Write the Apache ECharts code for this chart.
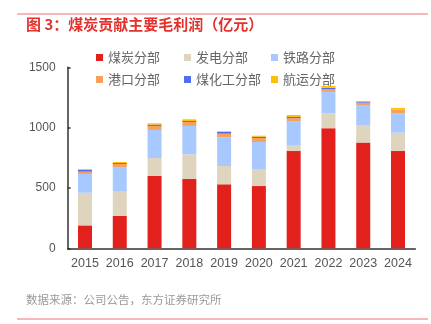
<!DOCTYPE html>
<html><head><meta charset="utf-8">
<script src="https://cdn.jsdelivr.net/npm/echarts@6/dist/echarts.min.js"></script>
<style>html,body{margin:0;padding:0;background:#fff}#c{width:431px;height:324px}</style>
</head><body><div id="c"></div>
<script>
const categories = ['2015','2016','2017','2018','2019','2020','2021','2022','2023','2024'];
const seriesNames = ['煤炭分部','发电分部','铁路分部','港口分部','煤化工分部','航运分部'];
const coal     = [190, 268, 599, 574, 530, 516, 806, 995, 876, 806];
const power    = [270, 201, 149, 205, 152, 141,  50, 124, 146, 152];
const railway  = [156, 200, 233, 235, 238, 224, 194, 177, 160, 163];
const port     = [ 19,  30,  33,  33,  30,  33,  28,  22,  25,  31];
const coalChem = [ 14,   8,  11,   8,  14,  11,  10,  13,   6,   0];
const shipping = [  7,   8,  11,  14,   6,   8,  17,  14,   8,  11];
const yTicks = [0, 500, 1000, 1500];

const values = [coal, power, railway, port, coalChem, shipping];
const colors = ['#e3211c', '#dfd5bf', '#a8c9ff', '#f9a05c', '#4f6ef0', '#ffc000'];
const font = '"Liberation Sans", Arial, "Noto Sans CJK SC", sans-serif';
const cjk = '"Noto Sans CJK SC", sans-serif';

const legendPos = [[96, 51], [184, 51], [271, 51], [96, 73], [184, 73], [271, 73]];
const legends = seriesNames.map((n, i) => ({
  data: [n], left: legendPos[i][0], top: legendPos[i][1], padding: 0,
  icon: 'rect', itemWidth: 7, itemHeight: 7, itemGap: 0,
  textStyle: { fontSize: 13, color: '#666', fontFamily: cjk, padding: [0, 0, 0, 0] }
}));

const chart = echarts.init(document.getElementById('c'), null, { renderer: 'canvas' });
chart.setOption({
  animation: false,
  title: {
    text: '图 3：煤炭贡献主要毛利润（亿元）', left: 26, top: 17, padding: 0,
    textStyle: { color: '#e3312d', fontSize: 15, fontWeight: 'bold', fontFamily: cjk }
  },
  legend: legends,
  grid: { left: 67.6, right: 15.6, top: 67.3, bottom: 75.7, containLabel: false },
  xAxis: {
    type: 'category', data: categories,
    axisLine: { lineStyle: { color: '#333', width: 1.5 } },
    axisTick: { inside: true, length: 3, lineStyle: { color: '#333', width: 1.5 } },
    axisLabel: { interval: 0, fontSize: 12.5, color: '#555', fontFamily: font, margin: 9 }
  },
  yAxis: {
    type: 'value', min: yTicks[0], max: yTicks[yTicks.length - 1], interval: 500,
    axisLine: { show: true, lineStyle: { color: '#333', width: 1.5 } },
    axisTick: { show: true, inside: true, length: 3, lineStyle: { color: '#333', width: 1.5 } },
    splitLine: { show: false },
    axisLabel: { fontSize: 12, color: '#555', fontFamily: font, margin: 12, formatter: v => String(v) }
  },
  series: seriesNames.map((n, i) => ({
    name: n, type: 'bar', stack: 'total', data: values[i], barWidth: 14,
    itemStyle: { color: colors[i] }
  })),
  graphic: [
    { type: 'line', shape: { x1: 17, y1: 14, x2: 428, y2: 14 }, style: { stroke: '#f07070', lineWidth: 1 } },
    { type: 'line', shape: { x1: 17, y1: 319, x2: 428, y2: 319 }, style: { stroke: '#f07070', lineWidth: 1 } },
    { type: 'text', left: 26, top: 294, style: { text: '数据来源：公司公告，东方证券研究所', fill: '#999', fontSize: 11.5, fontFamily: cjk } }
  ]
});
</script></body></html>
